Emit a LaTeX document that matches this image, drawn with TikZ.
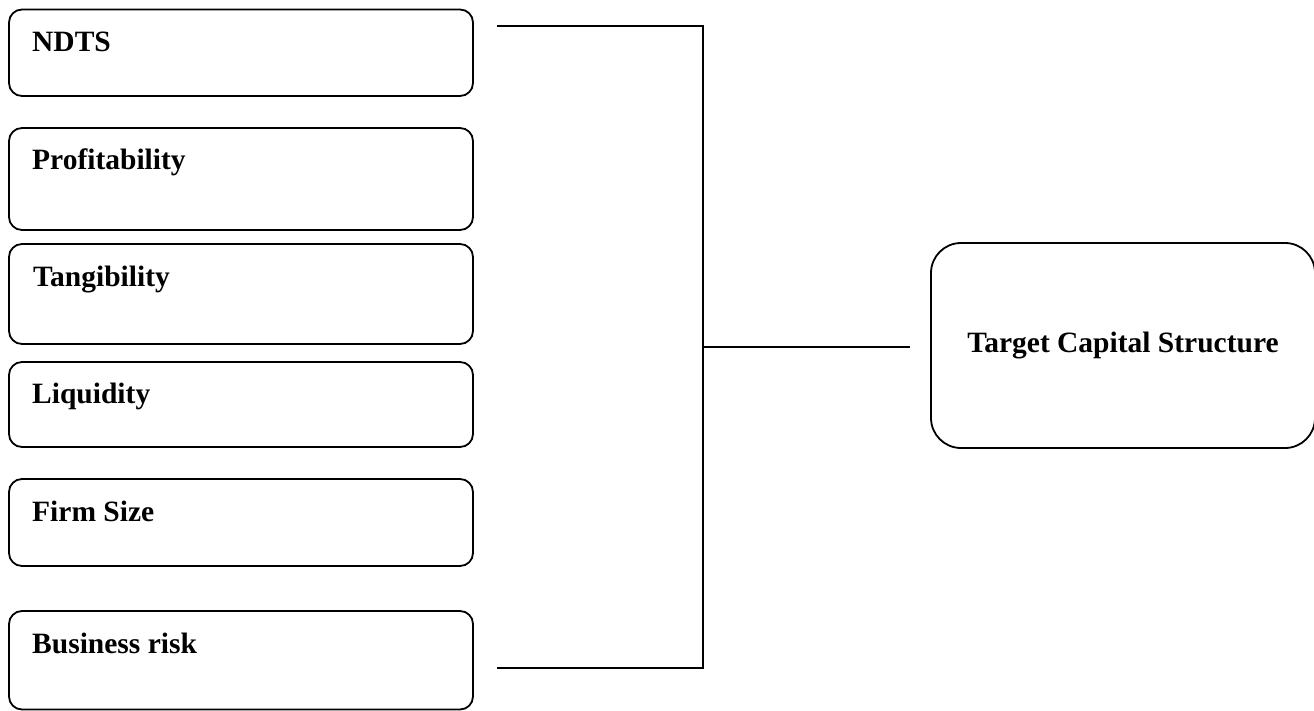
\documentclass[tikz,border=0pt]{standalone}
\usepackage{fontspec}
\setmainfont{Liberation Serif}
\usetikzlibrary{calc}
\begin{document}
\begin{tikzpicture}[x=1pt,y=-1pt,
  box/.style={draw=black, line width=1.8pt, rounded corners=13pt, anchor=north west,
    minimum width=464pt, inner sep=0pt, outer sep=0pt},
  bigbox/.style={draw=black, line width=1.8pt, rounded corners=30pt, anchor=north west,
    minimum width=384pt, minimum height=205pt, inner sep=0pt, outer sep=0pt,
    font=\fontsize{29.5}{35}\selectfont\bfseries},
  lbl/.style={anchor=base west, inner sep=0pt, font=\fontsize{29.5}{35}\selectfont\bfseries},
  conn/.style={draw=black, line width=1.8pt}]
\useasboundingbox (0,0) rectangle (1314,711);
\fill[white] (0,0) rectangle (1314,711);
% left boxes
\node[box, minimum height=86.5pt] (b1) at (9,9.5) {};
\node[box, minimum height=102pt] (b2) at (9,128) {};
\node[box, minimum height=100pt] (b3) at (9,244) {};
\node[box, minimum height=85pt] (b4) at (9,362) {};
\node[box, minimum height=87pt] (b5) at (9,479) {};
\node[box, minimum height=98.5pt] (b6) at (9,611) {};
% labels
\node[lbl] (t1) at ($(b1.north west)+(23,42.5)$) {NDTS};
\node[lbl] (t2) at ($(b2.north west)+(23,42)$) {Profitability};
\node[lbl] (t3) at ($(b3.north west)+(24,43)$) {Tangibility};
\node[lbl] (t4) at ($(b4.north west)+(23,41.5)$) {Liquidity};
\node[lbl] (t5) at ($(b5.north west)+(23,42.5)$) {Firm Size};
\node[lbl] (t6) at ($(b6.north west)+(23,42)$) {Business risk};
% right box
\node[bigbox] (tcs) at (931,243) {\raisebox{-2pt}{Target Capital Structure}};
% connector points
\coordinate (s1) at (497,26);
\coordinate (c1) at (703,26);
\coordinate (s6) at (497,668);
\coordinate (c6) at (703,668);
\coordinate (cm) at (703,347);
\coordinate (e) at (910,347);
\draw[conn] (s1) -- (c1) -- (c6) -- (s6);
\draw[conn] (cm) -- (e);
\end{tikzpicture}
\end{document}
